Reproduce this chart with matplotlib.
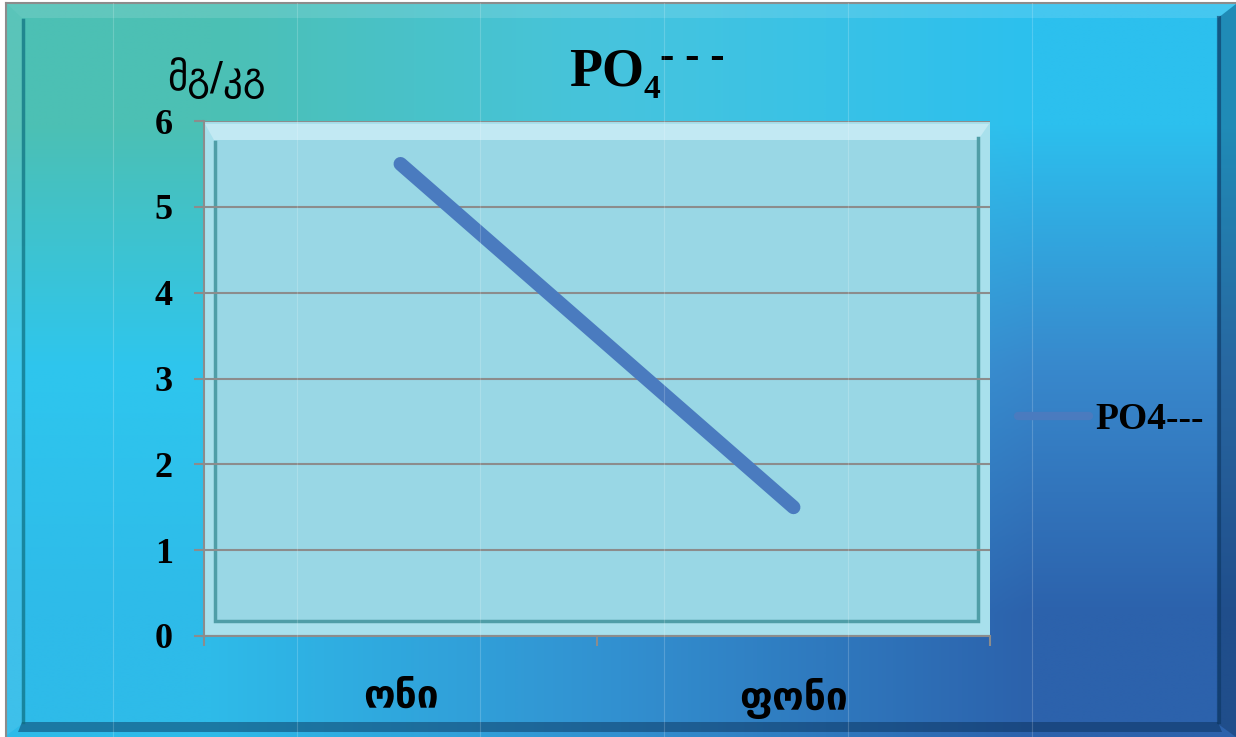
import numpy as np
import matplotlib.pyplot as plt
from matplotlib.patches import Polygon
from matplotlib.lines import Line2D

# data
categories = ["ონი", "ფონი"]
values = [5.5, 1.5]
y_ticks = [0, 1, 2, 3, 4, 5, 6]
series_name = "PO4---"
y_unit = "მგ/კგ"

W, H = 1236, 737
GRAY = "#8c8c8c"
SERIF = "Liberation Serif"

fig = plt.figure(figsize=(W / 100, H / 100), dpi=100)
fig.patch.set_facecolor("white")

# background gradient + outer bevel frame, drawn in pixel coords
bg = fig.add_axes([0, 0, 1, 1], zorder=-1)
grad = np.array([
    [[76, 192, 180], [70, 196, 222], [44, 192, 238]],
    [[46, 198, 238], [52, 176, 226], [56, 136, 204]],
    [[46, 187, 233], [50, 144, 208], [44, 98, 172]],
]) / 255
bg.imshow(grad, extent=(6, W, H, 3), interpolation="bilinear", aspect="auto")
bg.set_xlim(0, W)
bg.set_ylim(H, 0)
bg.axis("off")

# outer border
bg.plot([6, 6], [3, H], color=GRAY, lw=1.5)
bg.plot([6, W], [3, 3], color=GRAY, lw=1.5)
# bevel strips
bg.add_patch(Polygon([(7, 4), (W, 4), (1218, 18), (22, 18)], color="white", alpha=0.12, lw=0))
bg.add_patch(Polygon([(7, 4), (22, 18), (22, 724), (7, 735)], color="white", alpha=0.08, lw=0))
bg.add_patch(Polygon([(1218, 18), (W, 4), (W, H), (1218, 724)], color="#0a2a50", alpha=0.35, lw=0))
bg.add_patch(Polygon([(22, 722), (1218, 722), (1222, 732), (18, 732)], color="#062a50", alpha=0.45, lw=0))
bg.plot([23, 23], [20, 722], color="#0f6f80", lw=2.5, alpha=0.7)
bg.plot([1219, 1219], [18, 722], color="#0b3560", lw=3, alpha=0.6)

# faint vertical texture lines
for xv in [113, 297, 480, 664, 848, 1032]:
    fig.add_artist(Line2D([xv, xv], [3, H], transform=bg.transData,
                          color="white", alpha=0.18, lw=0.8, zorder=5))

# main plot axes
ax = fig.add_axes([204 / W, 1 - 636 / H, 786 / W, 515 / H])
ax.set_facecolor("#a8e0ec")


def axp(px, py):
    return ((px - 204) / 786, (636 - py) / 515)


# inner raised panel (below the grid)
ax.add_patch(Polygon([axp(214, 140), axp(978, 140), axp(978, 621), axp(214, 621)],
                     closed=True, transform=ax.transAxes, facecolor="#99d7e5",
                     edgecolor="none", zorder=0.2))
ax.add_patch(Polygon([axp(205, 124), axp(989, 124), axp(978, 140), axp(214, 140)],
                     closed=True, transform=ax.transAxes, facecolor="#c2e9f3",
                     edgecolor="none", zorder=0.2))
ax.add_line(Line2D(*zip(axp(215, 142), axp(215, 621), axp(978, 621), axp(978, 138)),
                   transform=ax.transAxes, color="#4f9ea7", lw=2.5, zorder=0.3,
                   solid_joinstyle="miter"))

x = np.arange(len(categories))
ax.plot(x, values, color="#4a7bbf", lw=10, solid_capstyle="round",
        label=series_name, zorder=3)

ax.set_xlim(-0.5, len(categories) - 0.5)
ax.set_ylim(0, 6)

ax.set_yticks(y_ticks, [str(v) for v in y_ticks],
              fontfamily=SERIF, fontweight="bold", fontsize=26)
ax.tick_params(axis="y", length=7.5, width=1.5, color=GRAY, pad=15)
ax.yaxis.grid(True, color=GRAY, lw=1.5)
ax.set_axisbelow(True)

ax.set_xticks(x, categories, fontfamily="DejaVu Sans", fontweight="bold", fontsize=28)
ax.set_xticks(np.arange(-0.5, len(categories)), minor=True)
ax.tick_params(axis="x", which="major", length=0, pad=30)
ax.tick_params(axis="x", which="minor", length=7.5, width=1.5, color=GRAY)

for side in ["top", "right"]:
    ax.spines[side].set_visible(False)
for side in ["left", "bottom"]:
    ax.spines[side].set_color(GRAY)
    ax.spines[side].set_linewidth(1.5)

# title PO4 with charge marks
fig.text(569 / W, 1 - 86 / H, "PO", fontfamily=SERIF, fontweight="bold",
         fontsize=39, ha="left", va="baseline")
fig.text(643 / W, 1 - 98 / H, "4", fontfamily=SERIF, fontweight="bold",
         fontsize=24, ha="left", va="baseline")
fig.text(660 / W, 1 - 68 / H, "- - -", fontfamily=SERIF, fontweight="bold",
         fontsize=31, ha="left", va="baseline")

# unit label
fig.text(216 / W, 1 - 78 / H, y_unit, fontfamily="DejaVu Sans", fontsize=28,
         ha="center", va="center")

leg = fig.legend(loc="center left", bbox_to_anchor=(1018 / W, 1 - 420 / H),
                 frameon=False, borderpad=0, borderaxespad=0, handlelength=1.9,
                 handletextpad=0.15,
                 prop=dict(family=SERIF, weight="bold", size=27))
leg.legend_handles[0].set_linewidth(6)

fig.savefig("out.png", dpi=100)
